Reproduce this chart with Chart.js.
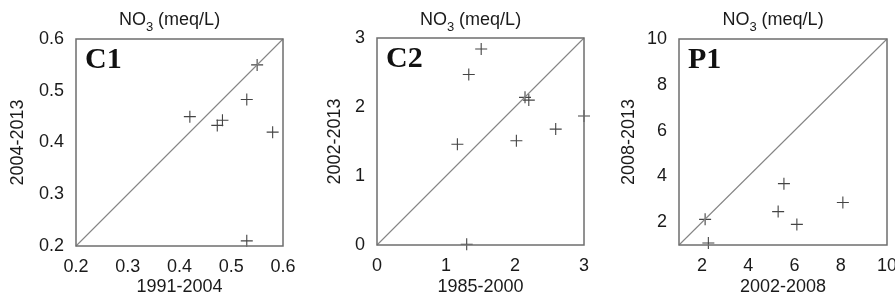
<!DOCTYPE html>
<html>
<head>
<meta charset="utf-8">
<script src="https://cdn.jsdelivr.net/npm/chart.js@4.4.1/dist/chart.umd.min.js"></script>
<style>
body { margin: 0; background: #fff; width: 895px; height: 302px; overflow: hidden; position: relative; }
canvas { position: absolute; top: 0; }
</style>
</head>
<body>
<canvas id="panel-c1" width="298" height="302" style="left:0px"></canvas>
<canvas id="panel-c2" width="297" height="302" style="left:300px"></canvas>
<canvas id="panel-p1" width="298" height="302" style="left:597px"></canvas>
<script>
// C1 : 1991-2004 vs 2004-2013
var c1X = [0.42, 0.473, 0.483, 0.53, 0.55, 0.58, 0.53];
var c1Y = [0.45, 0.433, 0.443, 0.483, 0.55, 0.42, 0.21];
var c1Ticks = [0.2, 0.3, 0.4, 0.5, 0.6];

// C2 : 1985-2000 vs 2002-2013
var c2X = [1.51, 1.33, 1.165, 1.30, 2.02, 2.145, 2.20, 2.59, 3.0];
var c2Y = [2.84, 2.47, 1.46, 0.01, 1.51, 2.14, 2.10, 1.68, 1.87];
var c2Ticks = [0, 1, 2, 3];

// P1 : 2002-2008 vs 2008-2013
var p1X = [2.13, 2.27, 5.29, 5.54, 6.10, 8.09];
var p1Y = [2.12, 1.09, 2.46, 3.68, 1.90, 2.86];
var p1Ticks = [2, 4, 6, 8, 10];

var textColor = '#1a1a1a';
var tickFont = { family: '"Liberation Sans", Arial, sans-serif', size: 18 };

// frame, panel letter and NO3 header
var panelPlugin = {
    id: 'panelDecor',
    afterDatasetsDraw: function (chart, args, opts) {
        var a = chart.chartArea;
        var ctx = chart.ctx;
        ctx.save();
        ctx.strokeStyle = '#6e6e6e';
        ctx.lineWidth = 1.5;
        ctx.strokeRect(a.left, a.top, a.right - a.left, a.bottom - a.top);

        ctx.fillStyle = '#111';
        ctx.font = 'bold 30px "Liberation Serif", "Times New Roman", serif';
        ctx.textBaseline = 'alphabetic';
        ctx.textAlign = 'left';
        ctx.fillText(opts.label, a.left + 9, a.top + 29);

        // NO3 (meq/L) with subscript
        var big = '18px "Liberation Sans", Arial, sans-serif';
        var small = '13px "Liberation Sans", Arial, sans-serif';
        ctx.fillStyle = textColor;
        ctx.font = big;
        var w1 = ctx.measureText('NO').width;
        var w3 = ctx.measureText(' (meq/L)').width;
        ctx.font = small;
        var w2 = ctx.measureText('3').width;
        var x = (a.left + a.right) / 2 - 10 - (w1 + w2 + w3) / 2;
        var y = 25;
        ctx.font = big;
        ctx.fillText('NO', x, y);
        ctx.font = small;
        ctx.fillText('3', x + w1, y + 6);
        ctx.font = big;
        ctx.fillText(' (meq/L)', x + w1 + w2, y);
        ctx.restore();
    }
};

function toPoints(xs, ys) {
    return xs.map(function (v, i) { return { x: v, y: ys[i] }; });
}

function makePanel(id, cfg) {
    var ctx = document.getElementById(id).getContext('2d');
    var lo = cfg.min, hi = cfg.max;
    var fmt = function (v) { return cfg.decimals ? Number(v).toFixed(cfg.decimals) : String(v); };
    return new Chart(ctx, {
        type: 'scatter',
        data: {
            datasets: [
                {
                    label: '1:1',
                    data: [{ x: lo, y: lo }, { x: hi, y: hi }],
                    showLine: true,
                    borderColor: '#858585',
                    borderWidth: 1.1,
                    pointRadius: 0,
                    clip: false
                },
                {
                    label: cfg.label,
                    data: toPoints(cfg.xs, cfg.ys),
                    pointStyle: 'cross',
                    pointRadius: 6,
                    pointBorderWidth: 1.1,
                    borderColor: '#444',
                    backgroundColor: '#444',
                    clip: false
                }
            ]
        },
        options: {
            responsive: false,
            animation: false,
            devicePixelRatio: 1,
            layout: { padding: { top: cfg.top, right: cfg.right, left: 0, bottom: 0 } },
            plugins: {
                legend: { display: false },
                tooltip: { enabled: false },
                panelDecor: { label: cfg.label }
            },
            scales: {
                x: {
                    type: 'linear',
                    min: lo, max: hi,
                    grid: { display: false, drawTicks: false },
                    border: { display: false },
                    ticks: { color: textColor, font: tickFont, padding: 10, maxRotation: 0, callback: fmt },
                    title: { display: true, text: cfg.xTitle, color: textColor, font: tickFont, padding: { top: 0, bottom: 4 } },
                    afterBuildTicks: function (s) { s.ticks = cfg.ticks.map(function (v) { return { value: v }; }); },
                    afterFit: function (s) { s.height = cfg.xHeight; s.paddingLeft = 0; s.paddingRight = 0; }
                },
                y: {
                    type: 'linear',
                    min: lo, max: hi,
                    grid: { display: false, drawTicks: false },
                    border: { display: false },
                    ticks: { color: textColor, font: tickFont, padding: 12, callback: fmt },
                    title: { display: true, text: cfg.yTitle, color: textColor, font: tickFont, padding: { top: cfg.yTitlePad, bottom: 0 } },
                    afterBuildTicks: function (s) { s.ticks = cfg.ticks.map(function (v) { return { value: v }; }); },
                    afterFit: function (s) { s.width = cfg.left; s.paddingTop = 0; s.paddingBottom = 0; }
                }
            }
        },
        plugins: [panelPlugin]
    });
}

makePanel('panel-c1', {
    label: 'C1', xs: c1X, ys: c1Y, ticks: c1Ticks, min: 0.2, max: 0.6, decimals: 1,
    xTitle: '1991-2004', yTitle: '2004-2013',
    top: 39, right: 15, left: 76, xHeight: 56, yTitlePad: 7
});
makePanel('panel-c2', {
    label: 'C2', xs: c2X, ys: c2Y, ticks: c2Ticks, min: 0, max: 3, decimals: 0,
    xTitle: '1985-2000', yTitle: '2002-2013',
    top: 38, right: 13, left: 77, xHeight: 57, yTitlePad: 24
});
makePanel('panel-p1', {
    label: 'P1', xs: p1X, ys: p1Y, ticks: p1Ticks, min: 1, max: 10, decimals: 0,
    xTitle: '2002-2008', yTitle: '2008-2013',
    top: 39, right: 8, left: 82, xHeight: 57, yTitlePad: 21
});
</script>
</body>
</html>
